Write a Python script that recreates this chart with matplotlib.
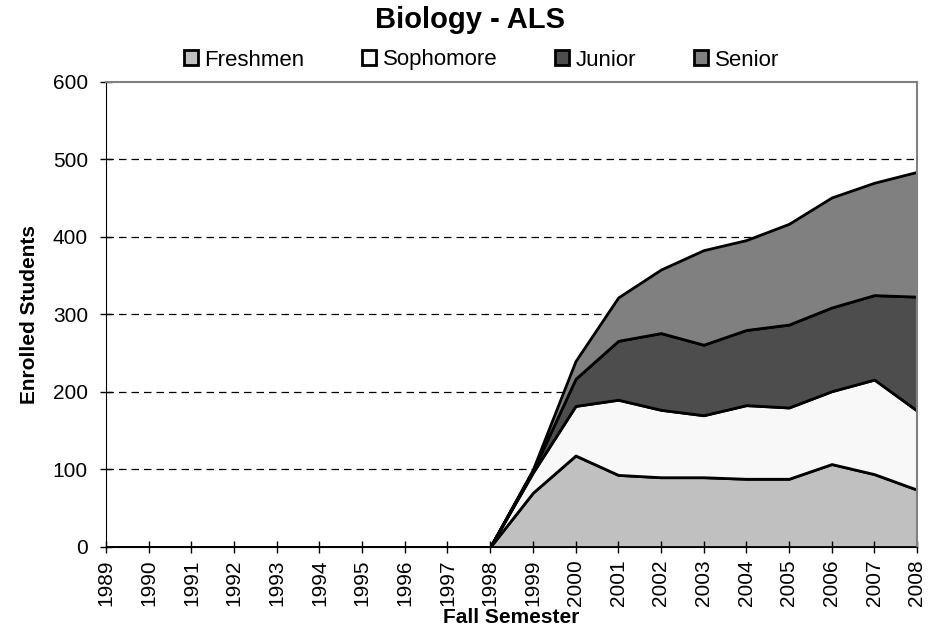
import numpy as np
import matplotlib.pyplot as plt

plt.rcParams['font.family'] = ['Liberation Sans', 'DejaVu Sans']

years = list(range(1989, 2009))
freshmen = [0, 0, 0, 0, 0, 0, 0, 0, 0, 0, 70, 118, 93, 90, 90, 88, 88, 107, 94, 74]
sophomore = [0, 0, 0, 0, 0, 0, 0, 0, 0, 0, 26, 64, 97, 87, 80, 95, 92, 94, 122, 102]
junior = [0, 0, 0, 0, 0, 0, 0, 0, 0, 0, 2, 35, 76, 99, 91, 97, 107, 108, 109, 147]
senior = [0, 0, 0, 0, 0, 0, 0, 0, 0, 0, 2, 23, 56, 82, 122, 116, 130, 142, 145, 161]

labels = ['Freshmen', 'Sophomore', 'Junior', 'Senior']
colors = ['#c0c0c0', '#f8f8f8', '#4d4d4d', '#808080']

fig = plt.figure(figsize=(9.4, 6.39), dpi=100)
ax = fig.add_axes([0.1128, 0.144, 0.8627, 0.7277])

x = np.arange(len(years))
polys = ax.stackplot(x, freshmen, sophomore, junior, senior,
                     colors=colors, labels=labels,
                     edgecolor='black', linewidth=2)

ax.set_xlim(0, len(years) - 1)
ax.set_ylim(0, 600)
ax.set_yticks(range(0, 601, 100))
ax.set_xticks(x)
ax.set_xticklabels([str(y) for y in years], rotation=90, fontsize=15)
ax.tick_params(axis='y', labelsize=15, pad=9)
ax.tick_params(axis='x', pad=5)
ax.tick_params(direction='inout', length=8, color='black', width=1)

for yv in range(100, 600, 100):
    ax.axhline(yv, color='black', linestyle=(0, (6, 4)), linewidth=0.9, zorder=0.5)

for side in ['top', 'right']:
    ax.spines[side].set_color('#808080')
    ax.spines[side].set_linewidth(1.5)
ax.spines['left'].set_color('black')
ax.spines['bottom'].set_color('black')

ax.set_xlabel('Fall Semester', fontsize=15, fontweight='bold', labelpad=1)
ax.set_ylabel('Enrolled Students', fontsize=15, fontweight='bold', labelpad=10)

fig.text(0.5, 1 - 20 / 639, 'Biology - ALS', fontsize=21, fontweight='bold',
         ha='center', va='center')
fig.legend(handles=polys, labels=labels, loc='center', ncol=4,
           bbox_to_anchor=(0.512, 1 - 60 / 639), frameon=False, fontsize=16,
           handlelength=0.63, handleheight=0.63, handletextpad=0.3,
           columnspacing=2.6, borderaxespad=0, borderpad=0)

fig.savefig('out.png', dpi=100)
